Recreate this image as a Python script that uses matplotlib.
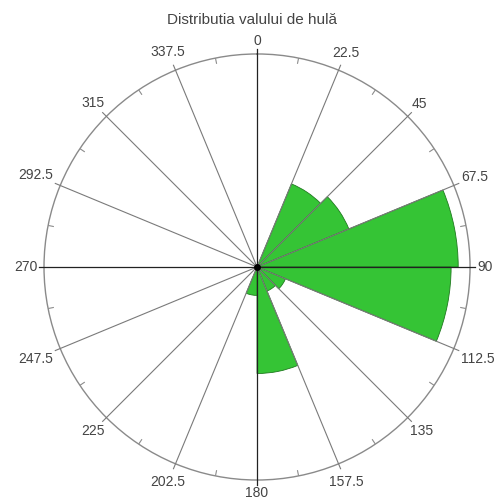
import numpy as np
import matplotlib.pyplot as plt

# wave direction bins (start of each 22.5 degree sector) and frequency per bin
directions = [0, 22.5, 45, 67.5, 90, 112.5, 135, 157.5,
              180, 202.5, 225, 247.5, 270, 292.5, 315, 337.5]
freq = [0, 19, 21, 42.5, 41, 6.5, 5.5, 22.5,
        6, 0, 0, 0, 0, 0, 0, 0]
tick_labels = ['0', '22.5', '45', '67.5', '90', '112.5', '135', '157.5',
               '180', '202.5', '225', '247.5', '270', '292.5', '315', '337.5']
rmax = 45
px = rmax / 213.0  # data units per pixel along the radius

fig = plt.figure(figsize=(4.96, 5.03), dpi=100)
ax = fig.add_axes([0.0887, 0.0457, 0.859, 0.847], projection='polar')
ax.set_theta_zero_location('N')
ax.set_theta_direction(-1)
ax.set_ylim(0, rmax)
ax.grid(False)
ax.set_xticks([])
ax.set_yticks([])
ax.spines['polar'].set_color('#8a8a8a')
ax.spines['polar'].set_linewidth(1.0)

width = np.deg2rad(22.5)
ax.bar(np.deg2rad(directions), freq, width=width, align='edge',
       color='#35c435', edgecolor='#1f7a1f', linewidth=0.6, zorder=2)

# spokes, slightly overshooting the outer circle
for d in directions:
    th = np.deg2rad(d)
    main = d % 90 == 0
    ax.plot([th, th], [0, rmax * 1.025], color='#222222' if main else '#7a7a7a',
            lw=0.9 if main else 0.8, zorder=3, clip_on=False)

# small inward ticks halfway between spokes
for d in np.array(directions) + 11.25:
    th = np.deg2rad(d)
    ax.plot([th, th], [rmax * 0.975, rmax], color='#8c8c8c', lw=0.8, zorder=3)

ax.plot(0, 0, 'o', color='black', ms=4, zorder=4)

# direction labels pushed out by their own half size
for d, lab in zip(directions, tick_labels):
    th = np.deg2rad(d)
    half_w = 3.6 * len(lab)
    half_h = 6.0
    pad = half_w * abs(np.sin(th)) + half_h * abs(np.cos(th))
    ax.text(th, rmax * 1.035 + pad * px, lab, ha='center', va='center',
            fontsize=10, color='#444444', family='Liberation Sans')

fig.text(0.509, 0.961, 'Distributia valului de hulă', ha='center', va='center',
         fontsize=11, color='#444444', family='Liberation Sans')

fig.savefig('out.png', dpi=100)
